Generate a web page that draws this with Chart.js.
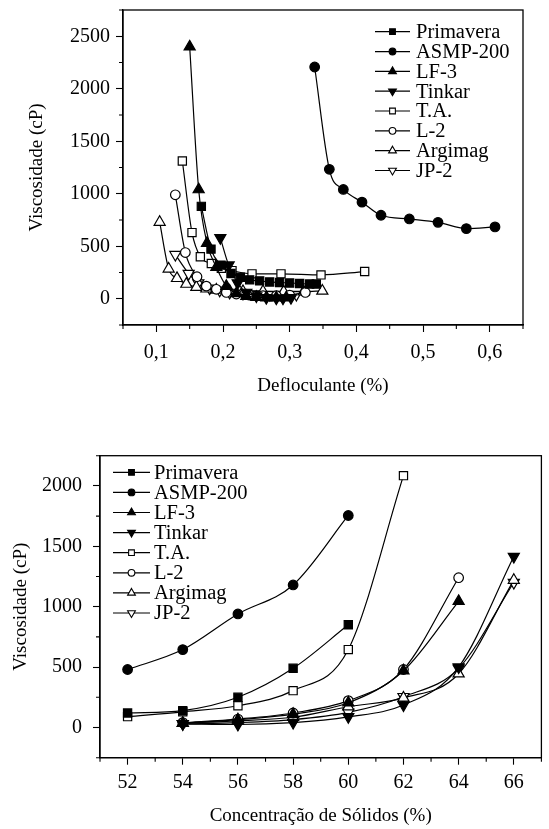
<!DOCTYPE html>
<html><head><meta charset="utf-8">
<script src="https://cdn.jsdelivr.net/npm/chart.js@4.4.1/dist/chart.umd.min.js"></script>
<style>
html,body{margin:0;padding:0;background:#fff;}
#wrap{position:relative;width:549px;height:829px;overflow:hidden;}
.box{position:absolute;left:0;}
</style></head><body>
<div id="wrap">
<div class="box" style="top:0;width:549px;height:400px"><canvas id="c1" width="549" height="400"></canvas></div>
<div class="box" style="top:400px;width:549px;height:429px"><canvas id="c2" width="549" height="429"></canvas></div>
</div>
<script>
// ---------- data ----------
const seriesNames = ['Primavera','ASMP-200','LF-3','Tinkar','T.A.','L-2','Argimag','JP-2'];

// Panel 1: viscosity vs defloculant (%)
const primaveraDeflX = [0.1675,0.182,0.197,0.212,0.226,0.24,0.255,0.27,0.285,0.30,0.315,0.33,0.34];
const primaveraDeflY = [880,473,320,240,205,180,170,160,155,150,145,140,140];
const asmpDeflX = [0.3375,0.3595,0.3805,0.4085,0.437,0.4795,0.5225,0.565,0.608];
const asmpDeflY = [2207,1233,1041,920,795,760,728,668,684];
const lf3DeflX = [0.15,0.1635,0.176,0.19,0.205,0.22,0.235,0.25,0.265,0.28,0.295];
const lf3DeflY = [2400,1040,530,300,120,50,25,15,10,10,10];
const tinkarDeflX = [0.196,0.2085,0.222,0.235,0.25,0.265,0.28,0.29,0.302];
const tinkarDeflY = [580,320,150,60,25,10,5,5,10];
const taDeflX = [0.139,0.1535,0.166,0.1825,0.1975,0.2135,0.2435,0.287,0.347,0.4125];
const taDeflY = [1312,630,400,335,290,268,237,237,227,259];
const l2DeflX = [0.1285,0.1435,0.161,0.175,0.19,0.205,0.22,0.24,0.26,0.28,0.30,0.3235];
const l2DeflY = [990,440,210,120,90,60,45,35,30,30,35,60];
const argimagDeflX = [0.105,0.1185,0.131,0.145,0.16,0.175,0.19,0.21,0.23,0.26,0.291,0.321,0.349];
const argimagDeflY = [730,285,195,140,110,95,85,75,70,70,67,67,75];
const jp2DeflX = [0.1285,0.1485,0.163,0.18,0.195,0.21,0.23,0.25,0.27,0.29,0.31];
const jp2DeflY = [420,240,150,100,80,60,50,45,40,40,40];

// Panel 2: viscosity vs solids concentration (%)
const solidsX = [52,54,56,58,60,62,64,66];
const primaveraSol = [120,140,250,490,850,null,null,null];
const asmpSol      = [480,645,940,1180,1755,null,null,null];
const lf3Sol       = [null,35,65,110,205,470,1045,null];
const tinkarSol    = [null,30,25,40,88,186,500,1415];
const taSol        = [90,130,180,305,645,2085,null,null];
const l2Sol        = [null,40,70,120,222,480,1240,null];
const argimagSol   = [null,35,55,85,172,245,445,1220];
const jp2Sol       = [null,30,40,65,125,255,490,1200];

// axis tick definitions
const deflTickLabels = ['0,1','0,2','0,3','0,4','0,5','0,6'];
const viscTop = [0,500,1000,1500,2000,2500];
const viscBottom = [0,500,1000,1500,2000];
const solidsTickLabels = [52,54,56,58,60,62,64,66];

// ---------- helpers ----------
Chart.defaults.font.family = "'Liberation Serif', 'Times New Roman', serif";
Chart.defaults.color = '#000';

const markerStyles = [
  {ps:'rect', fill:'#000', r:5.8, rot:0},
  {ps:'circle', fill:'#000', r:4.8, rot:0},
  {ps:'triangle', fill:'#000', r:6.4, rot:0},
  {ps:'triangle', fill:'#000', r:6.4, rot:180},
  {ps:'rect', fill:'#fff', r:5.8, rot:0},
  {ps:'circle', fill:'#fff', r:4.8, rot:0},
  {ps:'triangle', fill:'#fff', r:6.4, rot:0},
  {ps:'triangle', fill:'#fff', r:6.4, rot:180}
];

function zipXY(xs, ys) {
  const out = [];
  for (let i = 0; i < xs.length; i++) if (ys[i] !== null) out.push({x: xs[i], y: ys[i]});
  return out;
}

function makeDataset(i, pts) {
  const m = markerStyles[i];
  return {
    label: seriesNames[i], data: pts,
    borderColor: '#000', borderWidth: 1.2,
    pointStyle: m.ps, pointRotation: m.rot, pointRadius: m.r, pointHoverRadius: m.r,
    pointBackgroundColor: m.fill, pointBorderColor: '#000', pointBorderWidth: 1.2,
    cubicInterpolationMode: 'monotone', fill: false, showLine: true
  };
}

function drawMarker(ctx, m, x, y, r) {
  ctx.beginPath();
  if (m.ps === 'rect') {
    const s = r * Math.SQRT1_2;
    ctx.rect(x - s, y - s, 2 * s, 2 * s);
  } else if (m.ps === 'circle') {
    ctx.arc(x, y, r, 0, Math.PI * 2);
  } else {
    let rad = m.rot * Math.PI / 180;
    for (let k = 0; k < 3; k++) {
      const px = x + Math.sin(rad) * r, py = y - Math.cos(rad) * r;
      if (k === 0) ctx.moveTo(px, py); else ctx.lineTo(px, py);
      rad += 2 * Math.PI / 3;
    }
  }
  ctx.closePath();
  ctx.fillStyle = m.fill; ctx.fill();
  ctx.lineWidth = 1.1; ctx.strokeStyle = '#000'; ctx.stroke();
}

const framePlugin = {
  id: 'frame',
  afterDraw(chart, args, opts) {
    const {ctx, chartArea: a} = chart;
    ctx.save();
    ctx.strokeStyle = '#000';
    ctx.lineWidth = 1.3;
    ctx.strokeRect(a.left, a.top, a.right - a.left, a.bottom - a.top);
    // minor ticks
    const xs = chart.scales.x, ys = chart.scales.y;
    ctx.lineWidth = 1.1;
    ctx.beginPath();
    xs.ticks.forEach(t => {
      if (!opts.isMajorX(t.value)) {
        const px = xs.getPixelForValue(t.value);
        ctx.moveTo(px, a.bottom); ctx.lineTo(px, a.bottom + 4);
      }
    });
    ys.ticks.forEach(t => {
      if (!opts.isMajorY(t.value)) {
        const py = ys.getPixelForValue(t.value);
        ctx.moveTo(a.left, py); ctx.lineTo(a.left - 4, py);
      }
    });
    ctx.stroke();
    // legend
    const L = opts.legend;
    ctx.font = L.font + "px 'Liberation Serif', 'Times New Roman', serif";
    ctx.textBaseline = 'middle';
    ctx.textAlign = 'left';
    chart.data.datasets.forEach((ds, i) => {
      const y = L.y0 + i * L.dy;
      ctx.beginPath();
      ctx.lineWidth = 1.2; ctx.strokeStyle = '#000';
      ctx.moveTo(L.x0, y); ctx.lineTo(L.x1, y); ctx.stroke();
      const m = markerStyles[i];
      drawMarker(ctx, m, (L.x0 + L.x1) / 2, y, m.r * 0.7);
      ctx.fillStyle = '#000';
      ctx.fillText(ds.label, L.tx, y + 1);
    });
    ctx.restore();
  }
};

function buildTicks(min, max, stepUnits, scaleFactor) {
  const arr = [];
  for (let v = Math.round(min * scaleFactor); v <= Math.round(max * scaleFactor) + 1e-9; v += stepUnits) arr.push({value: v / scaleFactor});
  return arr;
}

// ---------- chart 1 ----------
const isMajorDefl = v => Math.abs(Math.round(v * 100)) % 10 === 0;
const isMajorVisc = v => Math.round(v) % 500 === 0;

new Chart(document.getElementById('c1'), {
  type: 'line',
  data: {
    datasets: [
      makeDataset(0, zipXY(primaveraDeflX, primaveraDeflY)),
      makeDataset(1, zipXY(asmpDeflX, asmpDeflY)),
      makeDataset(2, zipXY(lf3DeflX, lf3DeflY)),
      makeDataset(3, zipXY(tinkarDeflX, tinkarDeflY)),
      makeDataset(4, zipXY(taDeflX, taDeflY)),
      makeDataset(5, zipXY(l2DeflX, l2DeflY)),
      makeDataset(6, zipXY(argimagDeflX, argimagDeflY)),
      makeDataset(7, zipXY(jp2DeflX, jp2DeflY))
    ]
  },
  options: {
    responsive: false, animation: false, devicePixelRatio: 1,
    layout: {padding: {top: 10, right: 26, left: 0, bottom: 0}},
    plugins: {
      legend: {display: false}, tooltip: {enabled: false},
      frame: {
        isMajorX: isMajorDefl, isMajorY: isMajorVisc,
        legend: {x0: 375, x1: 410, tx: 416, y0: 31.7, dy: 19.83, font: 20.5}
      }
    },
    scales: {
      x: {
        type: 'linear', min: 0.05, max: 0.65,
        afterBuildTicks: s => { s.ticks = buildTicks(0.05, 0.65, 5, 100); },
        afterFit: s => { s.height = 75; s.paddingLeft = 0; s.paddingRight = 0; },
        grid: {drawOnChartArea: false, drawTicks: true, tickLength: 7,
               tickColor: c => isMajorDefl(c.tick.value) ? '#000' : 'rgba(0,0,0,0)', tickWidth: 1.1},
        border: {display: true, color: '#000', width: 1.3},
        ticks: {autoSkip: false, maxRotation: 0, padding: 9, font: {size: 20},
                callback: v => isMajorDefl(v) ? deflTickLabels[Math.round(v * 10) - 1] : ''},
        title: {display: true, text: 'Defloculante (%)', font: {size: 19}, padding: {top: 0, bottom: 3}}
      },
      y: {
        type: 'linear', min: -250, max: 2750,
        afterBuildTicks: s => { s.ticks = buildTicks(-250, 2750, 250, 1); },
        afterFit: s => { s.width = 123; s.paddingTop = 0; s.paddingBottom = 0; },
        grid: {drawOnChartArea: false, drawTicks: true, tickLength: 7,
               tickColor: c => isMajorVisc(c.tick.value) ? '#000' : 'rgba(0,0,0,0)', tickWidth: 1.1},
        border: {display: true, color: '#000', width: 1.3},
        ticks: {autoSkip: false, padding: 6, font: {size: 20},
                callback: v => viscTop.includes(Math.round(v)) ? String(Math.round(v)) : ''},
        title: {display: true, text: 'Viscosidade (cP)', font: {size: 19}, padding: {top: 26, bottom: 0}}
      }
    }
  },
  plugins: [framePlugin]
});

// ---------- chart 2 ----------
const isMajorSol = v => Math.round(v) % 2 === 0;
new Chart(document.getElementById('c2'), {
  type: 'line',
  data: {
    datasets: [
      makeDataset(0, zipXY(solidsX, primaveraSol)),
      makeDataset(1, zipXY(solidsX, asmpSol)),
      makeDataset(2, zipXY(solidsX, lf3Sol)),
      makeDataset(3, zipXY(solidsX, tinkarSol)),
      makeDataset(4, zipXY(solidsX, taSol)),
      makeDataset(5, zipXY(solidsX, l2Sol)),
      makeDataset(6, zipXY(solidsX, argimagSol)),
      makeDataset(7, zipXY(solidsX, jp2Sol))
    ]
  },
  options: {
    responsive: false, animation: false, devicePixelRatio: 1,
    layout: {padding: {top: 55.7, right: 1.3, left: 0, bottom: 0}},
    plugins: {
      legend: {display: false}, tooltip: {enabled: false},
      frame: {
        isMajorX: isMajorSol, isMajorY: isMajorVisc,
        legend: {x0: 113, x1: 150, tx: 154, y0: 72.3, dy: 20.1, font: 20.5}
      }
    },
    scales: {
      x: {
        type: 'linear', min: 51, max: 67,
        afterBuildTicks: s => { s.ticks = buildTicks(51, 67, 1, 1); },
        afterFit: s => { s.height = 71.3; s.paddingLeft = 0; s.paddingRight = 0; },
        grid: {drawOnChartArea: false, drawTicks: true, tickLength: 7,
               tickColor: c => isMajorSol(c.tick.value) ? '#000' : 'rgba(0,0,0,0)', tickWidth: 1.1},
        border: {display: true, color: '#000', width: 1.3},
        ticks: {autoSkip: false, maxRotation: 0, padding: 6, font: {size: 20},
                callback: v => solidsTickLabels.includes(Math.round(v)) ? String(Math.round(v)) : ''},
        title: {display: true, text: 'Concentração de Sólidos (%)', font: {size: 19}, padding: {top: 0, bottom: 1.5}}
      },
      y: {
        type: 'linear', min: -250, max: 2250,
        afterBuildTicks: s => { s.ticks = buildTicks(-250, 2250, 250, 1); },
        afterFit: s => { s.width = 100; s.paddingTop = 0; s.paddingBottom = 0; },
        grid: {drawOnChartArea: false, drawTicks: true, tickLength: 7,
               tickColor: c => isMajorVisc(c.tick.value) ? '#000' : 'rgba(0,0,0,0)', tickWidth: 1.1},
        border: {display: true, color: '#000', width: 1.3},
        ticks: {autoSkip: false, padding: 11, font: {size: 20},
                callback: v => viscBottom.includes(Math.round(v)) ? String(Math.round(v)) : ''},
        title: {display: true, text: 'Viscosidade (cP)', font: {size: 19}, padding: {top: 10, bottom: 0}}
      }
    }
  },
  plugins: [framePlugin]
});
</script>
</body></html>
